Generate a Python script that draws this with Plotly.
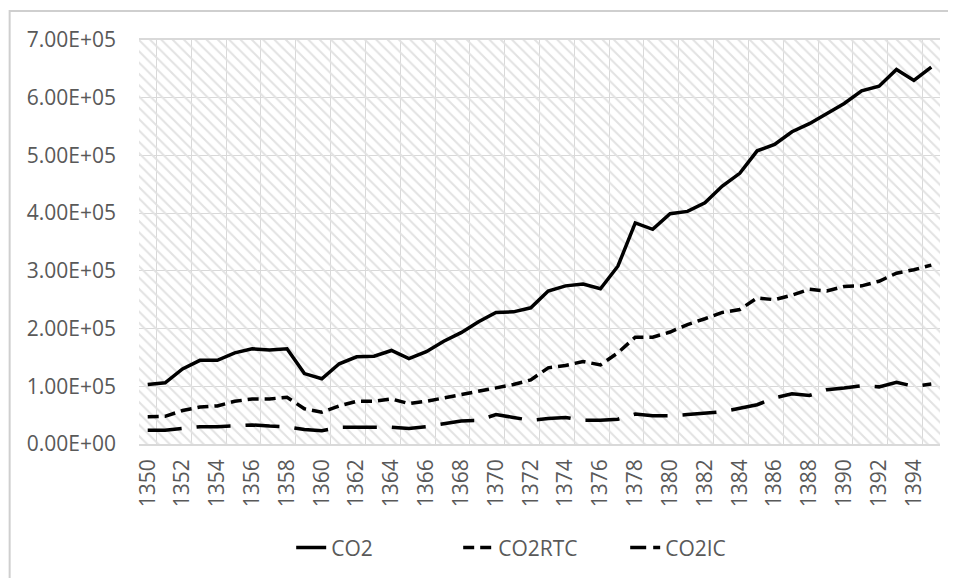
import plotly.graph_objects as go

years = list(range(1350, 1396))

co2 = [1.03e5, 1.06e5, 1.30e5, 1.45e5, 1.45e5, 1.58e5, 1.65e5, 1.63e5, 1.65e5, 1.22e5,
       1.13e5, 1.39e5, 1.51e5, 1.52e5, 1.62e5, 1.48e5, 1.60e5, 1.78e5, 1.93e5, 2.12e5,
       2.28e5, 2.29e5, 2.36e5, 2.65e5, 2.74e5, 2.77e5, 2.69e5, 3.08e5, 3.83e5, 3.72e5,
       3.99e5, 4.03e5, 4.18e5, 4.47e5, 4.69e5, 5.08e5, 5.19e5, 5.41e5, 5.55e5, 5.73e5,
       5.90e5, 6.12e5, 6.20e5, 6.49e5, 6.30e5, 6.53e5]

co2rtc = [0.47e5, 0.48e5, 0.58e5, 0.64e5, 0.66e5, 0.74e5, 0.78e5, 0.78e5, 0.81e5, 0.61e5,
          0.55e5, 0.66e5, 0.74e5, 0.74e5, 0.78e5, 0.70e5, 0.74e5, 0.80e5, 0.85e5, 0.91e5,
          0.97e5, 1.03e5, 1.11e5, 1.32e5, 1.36e5, 1.43e5, 1.37e5, 1.58e5, 1.85e5, 1.85e5,
          1.94e5, 2.07e5, 2.17e5, 2.28e5, 2.33e5, 2.53e5, 2.50e5, 2.58e5, 2.68e5, 2.65e5,
          2.73e5, 2.74e5, 2.82e5, 2.96e5, 3.02e5, 3.10e5]

co2ic = [0.24e5, 0.24e5, 0.27e5, 0.30e5, 0.30e5, 0.31e5, 0.33e5, 0.31e5, 0.30e5, 0.25e5,
         0.23e5, 0.29e5, 0.29e5, 0.29e5, 0.29e5, 0.27e5, 0.30e5, 0.35e5, 0.40e5, 0.41e5,
         0.51e5, 0.46e5, 0.41e5, 0.44e5, 0.46e5, 0.41e5, 0.41e5, 0.43e5, 0.52e5, 0.49e5,
         0.49e5, 0.51e5, 0.54e5, 0.56e5, 0.62e5, 0.68e5, 0.80e5, 0.87e5, 0.84e5, 0.94e5,
         0.97e5, 1.01e5, 0.99e5, 1.07e5, 1.00e5, 1.04e5]

y_tickvals = [0, 1e5, 2e5, 3e5, 4e5, 5e5, 6e5, 7e5]
y_ticktext = [f"{v:.2E}" for v in y_tickvals]
x_tickvals = years[::2]
x_ticktext = [str(y) for y in x_tickvals]
y_max = 7e5

FONT = "Open Sans"
FSIZE = 21
GRAY_TXT = "#595959"
GRID = "#d9d9d9"

fig = go.Figure()

# hatched plot-area background
fig.add_trace(go.Bar(
    x=[(years[0] + years[-1]) / 2], y=[y_max], width=[len(years)],
    marker=dict(color="rgba(0,0,0,0)", line=dict(width=0),
                pattern=dict(shape="\\", fgcolor="#e2e2e2", bgcolor="rgba(0,0,0,0)",
                             size=8, solidity=0.25, fillmode="replace")),
    showlegend=False, hoverinfo="skip"))

fig.add_trace(go.Scatter(x=years, y=co2, name="CO2", mode="lines", legendgroup="a",
                         line=dict(color="black", width=3.5)))
fig.add_trace(go.Scatter(x=years, y=co2rtc, name="CO2RTC", mode="lines", legendgroup="b",
                         line=dict(color="black", width=3.5, dash="11px,6px")))
fig.add_trace(go.Scatter(x=years, y=co2ic, name="CO2IC", mode="lines", legendgroup="c",
                         showlegend=False,
                         line=dict(color="black", width=3.5, dash="34px,15px")))
# legend sample for CO2IC (long dash shortened to fit the legend swatch)
fig.add_trace(go.Scatter(x=[None], y=[None], name="CO2IC", mode="lines", legendgroup="c",
                         line=dict(color="black", width=3.5, dash="16px,7px"),
                         hoverinfo="skip"))

fig.add_shape(type="rect", xref="paper", yref="paper",
              x0=-0.1615, x1=1.05, y0=-0.4, y1=1.072,
              line=dict(color="#cfcfcf", width=2), fillcolor="rgba(0,0,0,0)", layer="above")

fig.update_layout(
    width=948, height=570,
    margin=dict(l=131, r=16, t=32, b=134, autoexpand=False),
    paper_bgcolor="white", plot_bgcolor="white",
    font=dict(family=FONT, size=FSIZE, color=GRAY_TXT),
    showlegend=True,
    legend=dict(orientation="h", x=0.19, xanchor="left", y=-0.257, yanchor="middle",
                font=dict(family=FONT, size=FSIZE, color=GRAY_TXT),
                itemwidth=30, entrywidth=122, entrywidthmode="pixels",
                bgcolor="rgba(0,0,0,0)", tracegroupgap=0),
    bargap=0,
)

fig.update_xaxes(
    range=[years[0] - 0.5, years[-1] + 0.5], automargin=False,
    tickmode="array", tickvals=x_tickvals, ticktext=x_ticktext,
    tickangle=-90, showgrid=False, zeroline=False,
    showline=True, linecolor=GRID, linewidth=1.5, mirror=True,
    ticks="outside", ticklen=5, tickcolor="rgba(0,0,0,0)",
    tickfont=dict(family=FONT, size=FSIZE, color=GRAY_TXT),
    minor=dict(tickmode="array", tickvals=[y + 0.5 for y in years[::2]],
               showgrid=True, gridcolor=GRID, gridwidth=1, ticks=""),
)

fig.update_yaxes(
    range=[0, y_max], automargin=False,
    tickmode="array", tickvals=y_tickvals, ticktext=y_ticktext,
    showgrid=True, gridcolor=GRID, gridwidth=1, zeroline=False,
    showline=False, ticklabelstandoff=22,
    tickfont=dict(family=FONT, size=FSIZE, color=GRAY_TXT),
)

fig.write_html("out.html")
